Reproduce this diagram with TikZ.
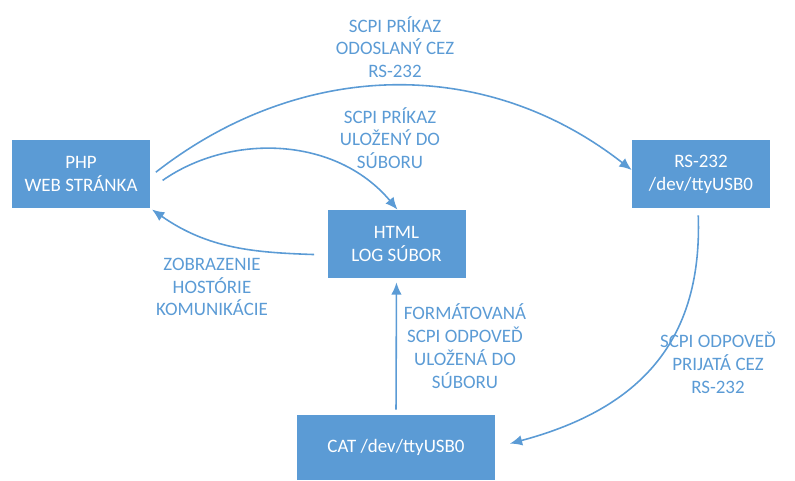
\documentclass[tikz,border=0pt]{standalone}
\usepackage{fontspec}
\setmainfont{Carlito}
\usetikzlibrary{arrows.meta, positioning}

\definecolor{officeblue}{HTML}{5B9BD5}

\begin{document}
\begin{tikzpicture}[
    box/.style={rectangle, fill=officeblue, text=white, minimum width=2.76cm, minimum height=1.36cm, align=center, inner sep=2pt},
    lbl/.style={text=officeblue, align=center},
    arrow/.style={-{Latex[length=7pt, width=6pt]}, draw=officeblue, line width=0.9pt},
	font=\fontsize{10.8}{13}\selectfont
]
\useasboundingbox (0,0) rectangle (15.9,9.6);

% Boxes
\node[box] (php) at (1.62, 6.12) {PHP\\WEB STRÁNKA};
\node[box] (rs) at (14.02, 6.12) {RS-232\\/dev/ttyUSB0};
\node[box] (html) at (7.93, 4.72) {HTML\\LOG SÚBOR};
\node[box, minimum width=3.96cm, minimum height=1.3cm] (cat) at (7.92, 0.65) {CAT /dev/ttyUSB0};

% Labels
\node[lbl] (lsend) at (7.9, 8.66) {SCPI PRÍKAZ\\ODOSLANÝ CEZ\\RS-232};
\node[lbl] (lsave) at (7.8, 6.84) {SCPI PRÍKAZ\\ULOŽENÝ DO\\SÚBORU};
\node[lbl] (lshow) at (4.24, 3.86) {ZOBRAZENIE\\HOSTÓRIE\\KOMUNIKÁCIE};
\node[lbl] (lform) at (9.3, 2.68) {FORMÁTOVANÁ\\SCPI ODPOVEĎ\\ULOŽENÁ DO\\SÚBORU};
\node[lbl] (lrecv) at (14.36, 2.34) {SCPI ODPOVEĎ\\PRIJATÁ CEZ\\RS-232};

% Arrows
\draw[arrow, shorten <=0.14cm] ([yshift=-0.05cm]php.east) to[out=38, in=142] ([yshift=0.08cm]rs.west);
\draw[arrow, shorten <=0.3cm] ([yshift=-0.3cm]php.east) to[out=35, in=130] ([xshift=0.02cm]html.north);
\draw[arrow, shorten <=0.26cm, shorten >=0.04cm] ([yshift=-0.22cm]html.west) to[out=178, in=-35] (php.south east);
\draw[arrow, shorten <=0.1cm, shorten >=0.08cm] (cat.north) -- (html.south);
\draw[arrow, shorten <=0.14cm, shorten >=0.3cm] ([xshift=-0.06cm]rs.south) to[out=-88, in=15, looseness=1.15] (cat.east);

\end{tikzpicture}
\end{document}
